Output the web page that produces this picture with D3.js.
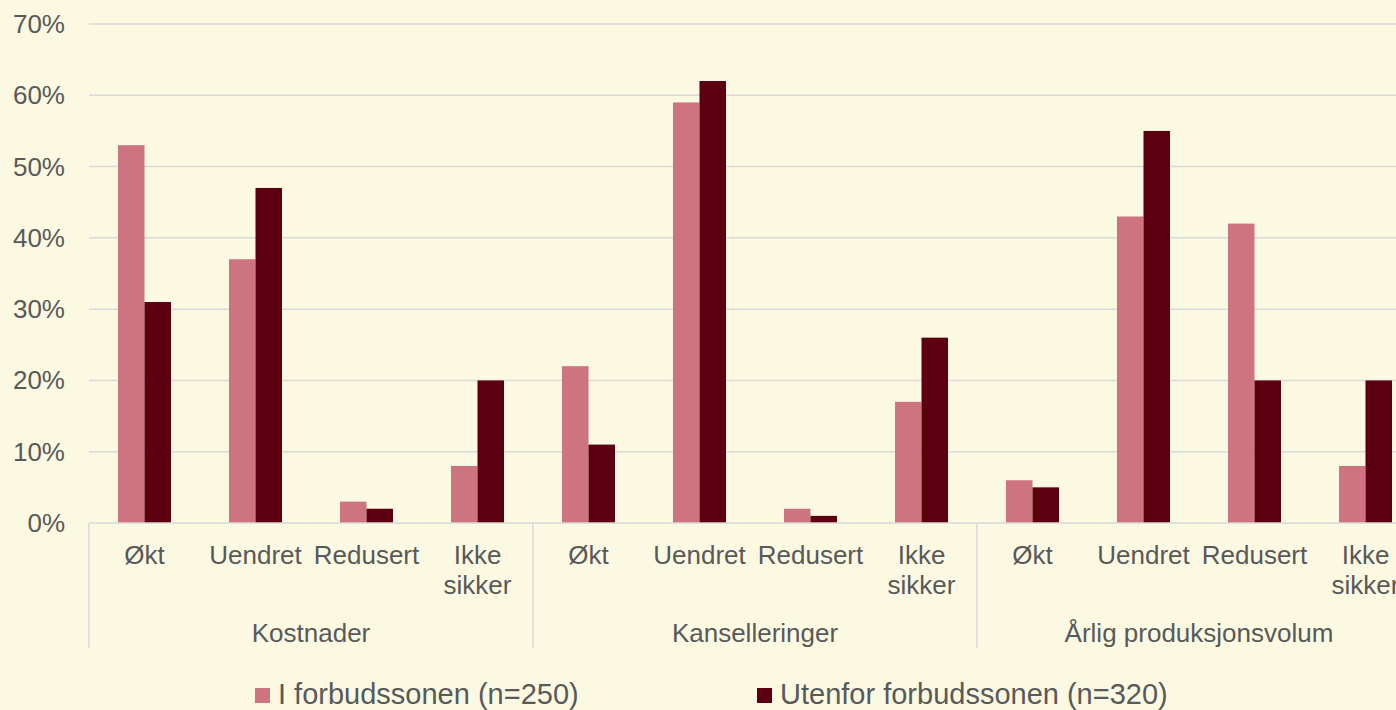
<!DOCTYPE html>
<html>
<head>
<meta charset="utf-8">
<script src="https://cdn.jsdelivr.net/npm/d3@7"></script>
<style>
  html, body { margin: 0; padding: 0; background: #FCF9E3; overflow: hidden; }
  svg text { font-family: "Liberation Sans", Arial, sans-serif; fill: #595959; }
</style>
</head>
<body>
<div id="chart"></div>
<script>
// chart data
const groups = ['Kostnader', 'Kanselleringer', 'Årlig produksjonsvolum'];
const categories = ['Økt', 'Uendret', 'Redusert', 'Ikke sikker'];
const seriesNames = ['I forbudssonen (n=250)', 'Utenfor forbudssonen (n=320)'];
const inZone = [53, 37, 3, 8, 22, 59, 2, 17, 6, 43, 42, 8];
const outZone = [31, 47, 2, 20, 11, 62, 1, 26, 5, 55, 20, 20];
const yTicks = [0, 10, 20, 30, 40, 50, 60, 70];
const colors = ['#CD7480', '#5C0011'];

const width = 1396, height = 710;
const plotLeft = 89, plotRight = 1421, plotTop = 24, plotBottom = 523;

const svg = d3.select('#chart').append('svg')
  .attr('width', width).attr('height', height);

svg.append('rect').attr('width', width).attr('height', height).attr('fill', '#FCF9E3');

// one slot per category in each group
const slots = [];
groups.forEach((g, gi) => categories.forEach((c, ci) => slots.push({ g, c, gi, ci, key: gi + '-' + ci })));

const x0 = d3.scaleBand().domain(slots.map(d => d.key)).range([plotLeft, plotRight]);
const x1 = d3.scaleBand().domain([0, 1]).range([0, x0.bandwidth()]).paddingOuter(1.095);
const y = d3.scaleLinear().domain([0, 70]).range([plotBottom, plotTop]);

// gridlines
svg.append('g').selectAll('line').data(yTicks.slice(1)).enter().append('line')
  .attr('x1', plotLeft).attr('x2', plotRight)
  .attr('y1', d => y(d)).attr('y2', d => y(d))
  .attr('stroke', '#D9D9D9').attr('stroke-width', 1.5);

// y labels
svg.append('g').selectAll('text').data(yTicks).enter().append('text')
  .attr('x', 65).attr('y', d => y(d) + 9)
  .attr('text-anchor', 'end').attr('font-size', 26)
  .text(d => d + '%');

// bars
const slotG = svg.append('g').selectAll('g').data(slots).enter().append('g')
  .attr('transform', d => `translate(${x0(d.key)},0)`);

slotG.selectAll('rect')
  .data((d, i) => [inZone[i], outZone[i]])
  .enter().append('rect')
  .attr('x', (v, j) => x1(j))
  .attr('width', x1.bandwidth())
  .attr('y', v => y(v))
  .attr('height', v => y(0) - y(v))
  .attr('fill', (v, j) => colors[j]);

// baseline
svg.append('line').attr('x1', plotLeft).attr('x2', plotRight)
  .attr('y1', plotBottom).attr('y2', plotBottom)
  .attr('stroke', '#D9D9D9').attr('stroke-width', 1.5);

// category labels (wrapped)
slotG.append('text')
  .attr('x', x0.bandwidth() / 2)
  .attr('text-anchor', 'middle').attr('font-size', 26)
  .each(function (d) {
    const t = d3.select(this);
    const lines = d.c === 'Ikke sikker' ? d.c.split(' ') : [d.c];
    lines.forEach((w, k) => {
      t.append('tspan').attr('x', x0.bandwidth() / 2).attr('y', 564 + k * 30).text(w);
    });
  });

// group separators
const sepX = groups.map((g, gi) => x0(gi + '-0')).concat([plotRight]);
svg.append('g').selectAll('line').data(sepX).enter().append('line')
  .attr('x1', d => d).attr('x2', d => d)
  .attr('y1', plotBottom).attr('y2', 648)
  .attr('stroke', '#D9D9D9').attr('stroke-width', 1.5);

// group labels
svg.append('g').selectAll('text').data(groups).enter().append('text')
  .attr('x', (g, gi) => (sepX[gi] + sepX[gi + 1]) / 2)
  .attr('y', 642)
  .attr('text-anchor', 'middle').attr('font-size', 26)
  .text(d => d);

// legend
const legendX = [255, 757];
const leg = svg.append('g').selectAll('g').data(seriesNames).enter().append('g')
  .attr('transform', (d, i) => `translate(${legendX[i]},0)`);
leg.append('rect').attr('x', 0).attr('y', 688).attr('width', 15).attr('height', 15)
  .attr('fill', (d, i) => colors[i]);
leg.append('text').attr('x', 23).attr('y', 704).attr('font-size', 29).text(d => d);
</script>
</body>
</html>
